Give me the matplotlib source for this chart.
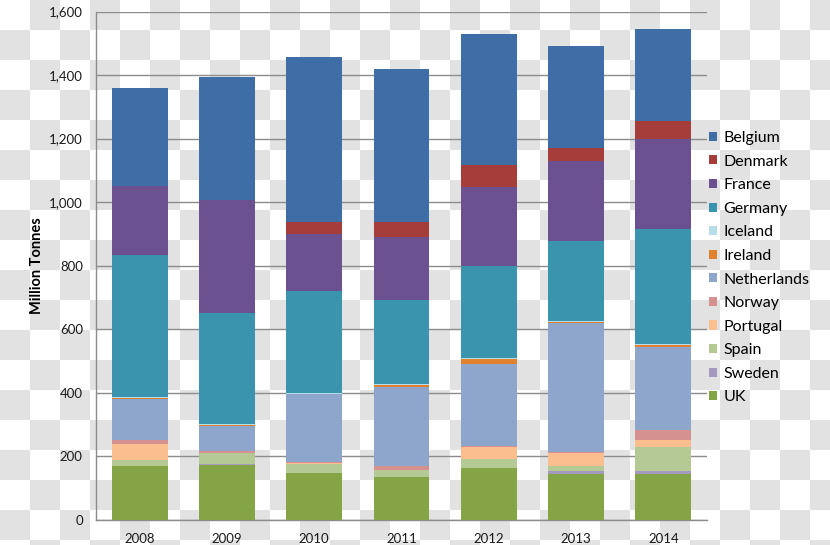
import numpy as np
import matplotlib.pyplot as plt

plt.rcParams['font.family'] = ['Lato', 'DejaVu Sans']

years = ['2008', '2009', '2010', '2011', '2012', '2013', '2014']

# stacked bottom -> top
uk = [170, 174, 147, 134, 163, 146, 146]
sweden = [1, 1, 2, 2, 2, 8, 7]
spain = [19, 36, 28, 21, 26, 17, 77]
portugal = [50, 1, 1, 1, 38, 41, 22]
norway = [13, 6, 6, 13, 5, 2, 31]
netherlands = [127, 79, 212, 249, 257, 406, 260]
ireland = [4, 1, 2, 5, 17, 2, 8]
iceland = [2, 4, 2, 3, 2, 3, 2]
germany = [449, 349, 322, 265, 290, 254, 364]
france = [215, 356, 178, 198, 249, 251, 283]
denmark = [0, 0, 38, 47, 69, 39, 55]
belgium = [310, 387, 520, 481, 410, 323, 290]

series = [
    ('UK', uk, '#84a446'),
    ('Sweden', sweden, '#a49abf'),
    ('Spain', spain, '#b4c994'),
    ('Portugal', portugal, '#fbbe8e'),
    ('Norway', norway, '#d49190'),
    ('Netherlands', netherlands, '#8ea5cc'),
    ('Ireland', ireland, '#e0812f'),
    ('Iceland', iceland, '#b7dee8'),
    ('Germany', germany, '#3a94ae'),
    ('France', france, '#6b5190'),
    ('Denmark', denmark, '#a53e3a'),
    ('Belgium', belgium, '#3f6ea7'),
]

fig = plt.figure(figsize=(8.3, 5.45), dpi=100)
fig.patch.set_alpha(0)

# checkerboard background (transparent png look)
h, w = 545, 830
yy, xx = np.mgrid[0:h, 0:w]
chk = ((xx // 30 + yy // 30) % 2).astype(float)
bg = np.where(chk[..., None] == 1, 0.89, 1.0) * np.ones((h, w, 3))
fig.figimage(bg, 0, 0, origin='upper', zorder=-10)

ax = fig.add_axes([96 / 830, 25 / 545, 611 / 830, 508.5 / 545])
ax.set_facecolor('none')

x = np.arange(len(years))
bottom = np.zeros(len(years))
handles = {}
for name, vals, col in series:
    b = ax.bar(x, vals, width=0.64, bottom=bottom, color=col, zorder=3)
    handles[name] = b
    bottom += np.array(vals)

ax.set_xlim(-0.5, len(years) - 0.5)
ax.set_ylim(0, 1600)
ax.set_yticks(range(0, 1601, 200))
ax.set_yticklabels([f'{v:,}' for v in range(0, 1601, 200)])
ax.set_xticks(x)
ax.set_xticklabels(years)
ax.yaxis.grid(True, color='#8c8c8c', linewidth=1, zorder=1)
ax.tick_params(length=0, labelsize=9.5, colors='#1a1a1a')
ax.tick_params(axis='y', pad=9.5)
ax.tick_params(axis='x', pad=9.5)
for s in ['top', 'right']:
    ax.spines[s].set_visible(False)
for s in ['left', 'bottom']:
    ax.spines[s].set_color('#8c8c8c')
    ax.spines[s].set_linewidth(1)

ax.set_ylabel('Million Tonnes', fontsize=10.5, fontweight='bold')
ax.yaxis.set_label_coords(-52 / 611, 0.5)

order = [s[0] for s in series][::-1]
leg = fig.legend([handles[n] for n in order], order, loc='upper left',
                 bbox_to_anchor=(709 / 830, 1 - 131 / 545), frameon=False,
                 fontsize=11.5, handlelength=0.5, handleheight=0.5,
                 handletextpad=0.4, labelspacing=0.6, borderaxespad=0,
                 borderpad=0)

fig.savefig('out.png', dpi=100)
